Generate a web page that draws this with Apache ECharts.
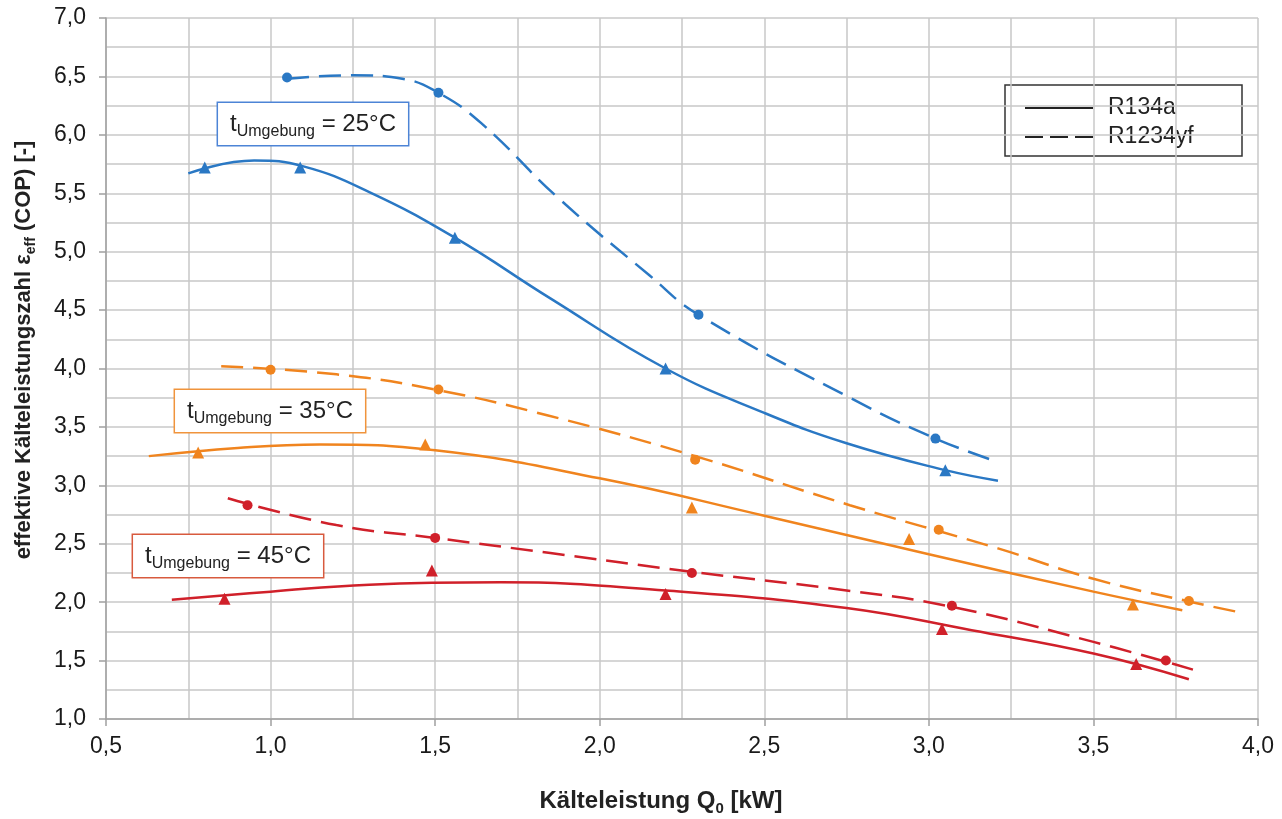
<!DOCTYPE html>
<html>
<head>
<meta charset="utf-8">
<script src="https://cdn.jsdelivr.net/npm/echarts@6/dist/echarts.min.js"></script>
<style>
  html, body { margin: 0; padding: 0; background: #fff; }
  #chart { width: 1282px; height: 819px; }
</style>
</head>
<body>
<div id="chart"></div>
<script>
// Trend curves: [Q0 kW, COP]
const curve25R134a = [[0.75, 5.67], [0.95, 5.78], [1.1, 5.73], [1.3, 5.51], [1.56, 5.12], [1.85, 4.6], [2.2, 4.0], [2.5, 3.62], [2.75, 3.36], [3.05, 3.13], [3.21, 3.04]]
const curve25R1234yf = [[1.05, 6.48], [1.25, 6.51], [1.4, 6.48], [1.51, 6.36], [1.64, 6.1], [1.87, 5.47], [2.15, 4.8], [2.3, 4.46], [2.76, 3.75], [3.02, 3.4], [3.21, 3.2]]
const curve35R134a = [[0.63, 3.25], [0.9, 3.32], [1.15, 3.35], [1.5, 3.3], [2.0, 3.06], [2.5, 2.74], [3.0, 2.41], [3.5, 2.09], [3.77, 1.93]]
const curve35R1234yf = [[0.85, 4.02], [1.2, 3.95], [1.5, 3.82], [1.84, 3.6], [2.29, 3.25], [2.76, 2.83], [3.21, 2.46], [3.5, 2.2], [3.8, 2.0], [3.95, 1.91]]
const curve45R134a = [[0.7, 2.02], [1.0, 2.09], [1.3, 2.15], [1.7, 2.17], [2.2, 2.1], [2.75, 1.95], [3.13, 1.76], [3.5, 1.56], [3.79, 1.34]]
const curve45R1234yf = [[0.87, 2.89], [1.2, 2.66], [1.5, 2.55], [1.85, 2.42], [2.28, 2.26], [2.75, 2.1], [3.07, 1.96], [3.5, 1.66], [3.83, 1.4]]

// Measured points
const points25R134a = [[0.8, 5.72], [1.09, 5.72], [1.56, 5.12], [2.2, 4.0], [3.05, 3.13]]
const points25R1234yf = [[1.05, 6.49], [1.51, 6.36], [2.3, 4.46], [3.02, 3.4]]
const points35R134a = [[0.78, 3.28], [1.47, 3.35], [2.28, 2.81], [2.94, 2.54], [3.62, 1.98]]
const points35R1234yf = [[1.0, 3.99], [1.51, 3.82], [2.29, 3.22], [3.03, 2.62], [3.79, 2.01]]
const points45R134a = [[0.86, 2.03], [1.49, 2.27], [2.2, 2.07], [3.04, 1.77], [3.63, 1.47]]
const points45R1234yf = [[0.93, 2.83], [1.5, 2.55], [2.28, 2.25], [3.07, 1.97], [3.72, 1.5]]

const refrigerants = ['R134a', 'R1234yf']
const ambientLabels = ['25°C', '35°C', '45°C']

const FONT = "'Liberation Sans', Arial, sans-serif"
const colors = { c25: '#2a78c4', c35: '#f0841e', c45: '#d0202a' }
const dash = [22, 10]

const chart = echarts.init(document.getElementById('chart'))

function curve(data, color, dashed) {
  return {
    type: 'line', data, smooth: 0.45, showSymbol: false, silent: true, z: 2,
    lineStyle: { color, width: 2.5, type: dashed ? dash : 'solid' },
  }
}

function marks(data, color, symbol) {
  return {
    type: 'scatter', data, symbol, symbolSize: symbol === 'triangle' ? 12 : 10, z: 3,
    itemStyle: { color, opacity: 1 },
  }
}

function boxLabel(text, x, y, border) {
  return {
    type: 'text', x, y, z: 10,
    style: {
      text: '{t|t}{s|Umgebung}{t| = ' + text + '}',
      align: 'center', verticalAlign: 'middle',
      backgroundColor: '#fff', borderColor: border, borderWidth: 1.5,
      padding: [5, 12, 5, 12],
      rich: {
        t: { fontSize: 24, fontFamily: FONT, fill: '#222', lineHeight: 32, verticalAlign: 'middle' },
        s: { fontSize: 16, fontFamily: FONT, fill: '#222', lineHeight: 10, verticalAlign: 'bottom' },
      },
    },
  }
}

const gridLine = { color: '#c8c8c8', width: 1.5 }
const tickFmt = v => v.toFixed(1).replace('.', ',')

chart.setOption({
  animation: false,
  backgroundColor: '#fff',
  grid: { left: 106, right: 24, top: 18, bottom: 100 },
  xAxis: {
    type: 'value', min: 0.5, max: 4.0, interval: 0.5,
    axisLine: { show: true, lineStyle: { color: '#a0a0a0', width: 1.5 } },
    axisTick: { show: true, length: 7, lineStyle: { color: '#a0a0a0', width: 1.5 } },
    axisLabel: { formatter: tickFmt, fontSize: 23, fontFamily: FONT, color: '#1a1a1a', margin: 16 },
    splitLine: { show: true, lineStyle: gridLine },
    minorTick: { show: false, splitNumber: 2 },
    minorSplitLine: { show: true, lineStyle: gridLine },
  },
  yAxis: {
    type: 'value', min: 1.0, max: 7.0, interval: 0.5,
    axisLine: { show: true, lineStyle: { color: '#a0a0a0', width: 1.5 } },
    axisTick: { show: true, length: 7, lineStyle: { color: '#a0a0a0', width: 1.5 } },
    axisLabel: { formatter: tickFmt, fontSize: 23, fontFamily: FONT, color: '#1a1a1a', margin: 20 },
    splitLine: { show: true, lineStyle: gridLine },
    minorTick: { show: false, splitNumber: 2 },
    minorSplitLine: { show: true, lineStyle: gridLine },
  },
  series: [
    curve(curve25R134a, colors.c25, false),
    curve(curve25R1234yf, colors.c25, true),
    curve(curve35R134a, colors.c35, false),
    curve(curve35R1234yf, colors.c35, true),
    curve(curve45R134a, colors.c45, false),
    curve(curve45R1234yf, colors.c45, true),
    marks(points25R134a, colors.c25, 'triangle'),
    marks(points25R1234yf, colors.c25, 'circle'),
    marks(points35R134a, colors.c35, 'triangle'),
    marks(points35R1234yf, colors.c35, 'circle'),
    marks(points45R134a, colors.c45, 'triangle'),
    marks(points45R1234yf, colors.c45, 'circle'),
  ],
  graphic: [
    boxLabel(ambientLabels[0], 313, 124, '#4d84d6'),
    boxLabel(ambientLabels[1], 270, 411, '#f0943c'),
    boxLabel(ambientLabels[2], 228, 556, '#d85a3e'),
    // legend
    {
      type: 'group', x: 1005, y: 85, z: 10,
      children: [
        { type: 'rect', shape: { x: 0, y: 0, width: 237, height: 71 }, style: { fill: '#fff', stroke: '#333', lineWidth: 1.5 } },
        { type: 'line', shape: { x1: 20, y1: 23, x2: 88, y2: 23 }, style: { stroke: '#222', lineWidth: 2 } },
        { type: 'line', shape: { x1: 20, y1: 52, x2: 88, y2: 52 }, style: { stroke: '#222', lineWidth: 2, lineDash: [18, 7] } },
        { type: 'text', x: 103, y: 23, style: { text: refrigerants[0], font: '23px ' + FONT, fill: '#222', verticalAlign: 'middle' } },
        { type: 'text', x: 103, y: 52, style: { text: refrigerants[1], font: '23px ' + FONT, fill: '#222', verticalAlign: 'middle' } },
      ],
    },
    // y axis title
    {
      type: 'text', x: 24, y: 350, rotation: Math.PI / 2, z: 10,
      style: {
        text: '{b|effektive Kälteleistungszahl ε}{s|eff}{b| (COP) [-]}',
        align: 'center', verticalAlign: 'middle',
        rich: {
          b: { fontSize: 22, fontWeight: 'bold', fontFamily: FONT, fill: '#222', lineHeight: 28, verticalAlign: 'middle' },
          s: { fontSize: 14, fontWeight: 'bold', fontFamily: FONT, fill: '#222', lineHeight: 8, verticalAlign: 'bottom' },
        },
      },
    },
    // x axis title
    {
      type: 'text', x: 661, y: 801, z: 10,
      style: {
        text: '{b|Kälteleistung Q}{s|0}{b| [kW]}',
        align: 'center', verticalAlign: 'middle',
        rich: {
          b: { fontSize: 24, fontWeight: 'bold', fontFamily: FONT, fill: '#222', lineHeight: 30, verticalAlign: 'middle' },
          s: { fontSize: 15, fontWeight: 'bold', fontFamily: FONT, fill: '#222', lineHeight: 8, verticalAlign: 'bottom' },
        },
      },
    },
  ],
})
</script>
</body>
</html>
